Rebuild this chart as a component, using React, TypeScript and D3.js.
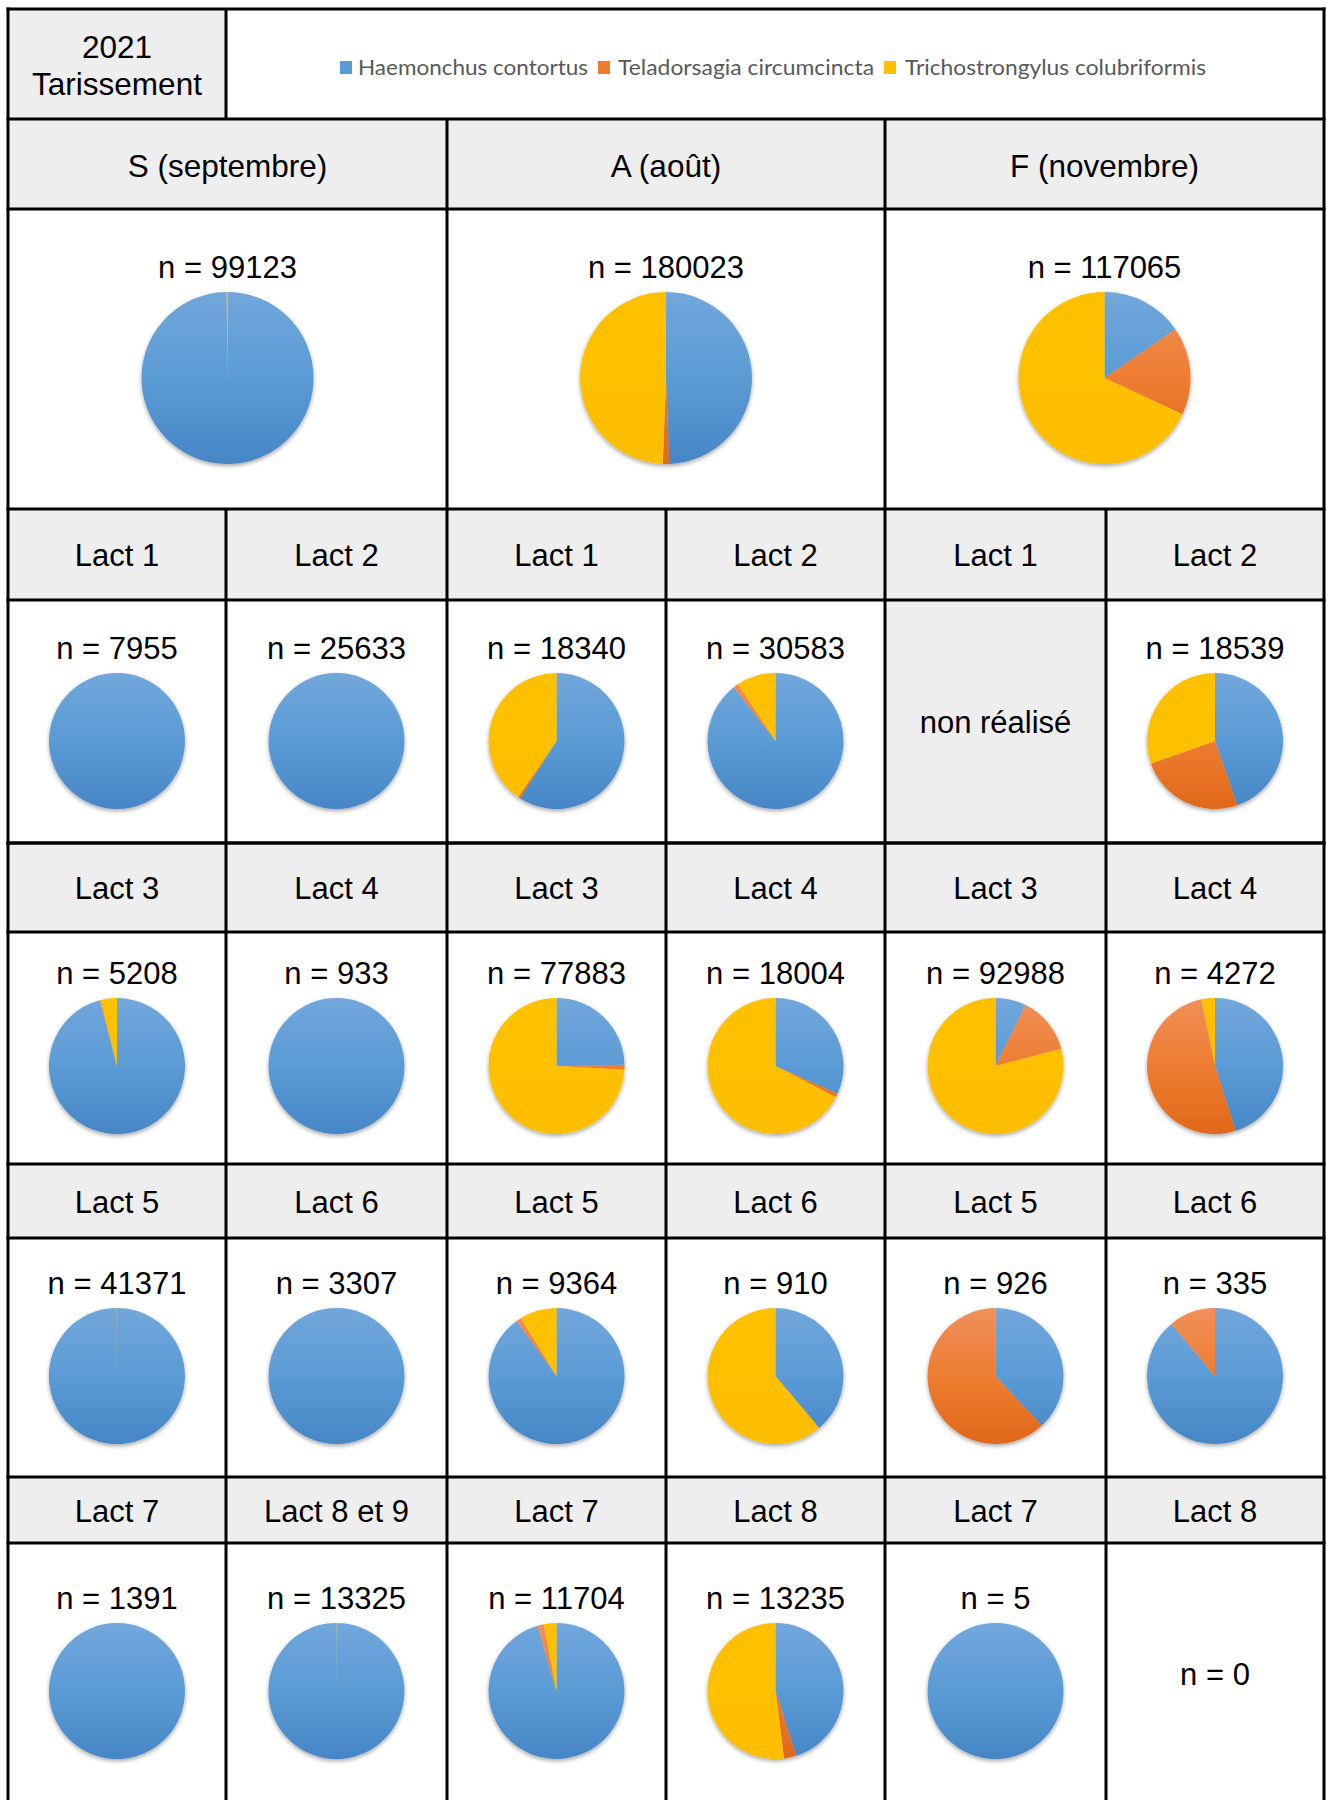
import React from "react";
import * as d3 from "d3";

// ---------- data ----------
const TITLE_LINES = ["2021", "Tarissement"];
const SPECIES = ["Haemonchus contortus", "Teladorsagia circumcincta", "Trichostrongylus colubriformis"];
const SPECIES_COLORS = ["#5B9BD5", "#ED7D31", "#FFC000"];

const MONTHS = ["S (septembre)", "A (août)", "F (novembre)"];
const MONTH_N = [99123, 180023, 117065];
const MONTH_HAEMONCHUS = [99.85, 49.4, 15.4];
const MONTH_TELADORSAGIA = [0, 1.2, 16.5];
const MONTH_TRICHO = [0.15, 49.4, 68.1];

const LACT_LABELS = [
  ["Lact 1", "Lact 2", "Lact 1", "Lact 2", "Lact 1", "Lact 2"],
  ["Lact 3", "Lact 4", "Lact 3", "Lact 4", "Lact 3", "Lact 4"],
  ["Lact 5", "Lact 6", "Lact 5", "Lact 6", "Lact 5", "Lact 6"],
  ["Lact 7", "Lact 8 et 9", "Lact 7", "Lact 8", "Lact 7", "Lact 8"],
];
const LACT_N: (number | null)[][] = [
  [7955, 25633, 18340, 30583, null, 18539],
  [5208, 933, 77883, 18004, 92988, 4272],
  [41371, 3307, 9364, 910, 926, 335],
  [1391, 13325, 11704, 13235, 5, 0],
];
const LACT_HAEMONCHUS = [
  [100, 100, 59, 89.5, 0, 44.7],
  [95.9, 100, 24.7, 31.7, 7.3, 45.1],
  [99.95, 100, 90, 38.9, 38.1, 88.9],
  [100, 99.95, 95.5, 45.1, 100, 0],
];
const LACT_TELADORSAGIA = [
  [0, 0, 0.5, 1.2, 0, 24.9],
  [0.3, 0, 1.2, 0.9, 13.6, 51.7],
  [0, 0, 1.2, 0, 61.9, 11.1],
  [0, 0, 1.5, 2.9, 0, 0],
];
const LACT_TRICHO = [
  [0, 0, 40.5, 9.3, 0, 30.4],
  [3.8, 0, 74.1, 67.4, 79.1, 3.2],
  [0.05, 0, 8.8, 61.1, 0, 0],
  [0, 0.05, 3.0, 52.0, 0, 0],
];
const NOT_DONE_LABEL = "non réalisé";

// ---------- layout ----------
const W = 1326;
const H = 1800;
const X = [8, 226, 447, 666, 885, 1106, 1324];
const MX = [8, 447, 885, 1324];
const Y_TOP = 9;
const Y_HEAD = 119;
const Y_MONTH = 209;
const Y_BIG = 509;
const LACT_ROWS = [
  { head: 509, pie: 600, end: 843, cy: 741 },
  { head: 843, pie: 932, end: 1164, cy: 1066 },
  { head: 1164, pie: 1238, end: 1477, cy: 1376 },
  { head: 1477, pie: 1543, end: 1810, cy: 1691 },
];
const GRAY = "#EEEEEE";
const FONT = "'Liberation Sans', Arial, Helvetica, sans-serif";
const FS = 31;
const GRAD_TOP = ["#71A7DB", "#F1905A", "#FFC000"];
const GRAD_MID = ["#5B9BD5", "#ED7D31", "#FFC000"];
const GRAD_BOT = ["#4686C6", "#E0681A", "#FDBD00"];

const pieGen = d3.pie<number>().sort(null).value((d) => d);

function Pie({ id, cx, cy, r, values }: { id: string; cx: number; cy: number; r: number; values: number[] }) {
  const arcs = pieGen(values);
  const arc = d3.arc<d3.PieArcDatum<number>>().innerRadius(0).outerRadius(r);
  return (
    <g transform={`translate(${cx},${cy})`}>
      <defs>
        {SPECIES.map((_, i) => (
          <linearGradient key={i} id={`${id}-g${i}`} gradientUnits="userSpaceOnUse" x1={0} y1={-r} x2={0} y2={r}>
            <stop offset="0" stopColor={GRAD_TOP[i]} />
            <stop offset="0.5" stopColor={GRAD_MID[i]} />
            <stop offset="1" stopColor={GRAD_BOT[i]} />
          </linearGradient>
        ))}
      </defs>
      <g filter="url(#pieShadow)">
        {arcs.map((a, i) =>
          a.value > 0 ? <path key={i} d={arc(a) || ""} fill={`url(#${id}-g${i})`} /> : null
        )}
      </g>
    </g>
  );
}

export default function App() {
  const hLines = [Y_TOP, Y_HEAD, Y_MONTH, Y_BIG, ...LACT_ROWS.slice(1).map((r) => r.head), ...LACT_ROWS.map((r) => r.pie), LACT_ROWS[0].end];
  const legendX = [340, 598, 884];
  const legendTextX = [358, 618, 905];
  const legendW = [230, 256, 301];
  const bigPieCy = 378;
  const bigR = 86;
  const smallR = 68;

  return (
    <svg width={W} height={H} style={{ position: "absolute", left: 0, top: 0, background: "#fff" }} fontFamily={FONT}>
      <defs>
        <filter id="pieShadow" x="-20%" y="-20%" width="140%" height="145%">
          <feDropShadow dx="0" dy="2" stdDeviation="2.2" floodColor="#000" floodOpacity="0.35" />
        </filter>
      </defs>
      <rect x={0} y={0} width={W} height={H} fill="#fff" />

      {/* gray header cells */}
      <rect x={X[0]} y={Y_TOP} width={X[1] - X[0]} height={Y_HEAD - Y_TOP} fill={GRAY} />
      <rect x={X[0]} y={Y_HEAD} width={X[6] - X[0]} height={Y_MONTH - Y_HEAD} fill={GRAY} />
      {LACT_ROWS.map((r, i) => (
        <rect key={i} x={X[0]} y={r.head} width={X[6] - X[0]} height={r.pie - r.head} fill={GRAY} />
      ))}
      {LACT_N.map((row, ri) =>
        row.map((n, ci) =>
          n === null ? (
            <rect key={`nd${ri}-${ci}`} x={X[ci]} y={LACT_ROWS[ri].pie} width={X[ci + 1] - X[ci]} height={LACT_ROWS[ri].end - LACT_ROWS[ri].pie} fill={GRAY} />
          ) : null
        )
      )}

      {/* title */}
      <text x={(X[0] + X[1]) / 2} y={58} textAnchor="middle" fontSize={31.5} fill="#000">{TITLE_LINES[0]}</text>
      <text x={(X[0] + X[1]) / 2} y={95} textAnchor="middle" fontSize={31.5} fill="#000">{TITLE_LINES[1]}</text>

      {/* legend */}
      {SPECIES.map((s, i) => (
        <g key={s}>
          <rect x={legendX[i]} y={61} width={12} height={13} fill={SPECIES_COLORS[i]} />
          <text x={legendTextX[i]} y={75} fontFamily="Lato, 'Open Sans', sans-serif" fontSize={22} fill="#595959" textLength={legendW[i]} lengthAdjust="spacingAndGlyphs">
            {s}
          </text>
        </g>
      ))}

      {/* month headers */}
      {MONTHS.map((m, i) => (
        <text key={m} x={(MX[i] + MX[i + 1]) / 2} y={177} textAnchor="middle" fontSize={31.5} fill="#000">{m}</text>
      ))}

      {/* big pies */}
      {MONTHS.map((m, i) => {
        const cx = (MX[i] + MX[i + 1]) / 2;
        return (
          <g key={`big${i}`}>
            <text x={cx} y={bigPieCy - bigR - 14} textAnchor="middle" fontSize={FS} fill="#000">{`n = ${MONTH_N[i]}`}</text>
            <Pie id={`big${i}`} cx={cx} cy={bigPieCy} r={bigR} values={[MONTH_HAEMONCHUS[i], MONTH_TELADORSAGIA[i], MONTH_TRICHO[i]]} />
          </g>
        );
      })}

      {/* lactation rows */}
      {LACT_ROWS.map((row, ri) => (
        <g key={`row${ri}`}>
          {LACT_LABELS[ri].map((lab, ci) => (
            <text key={`h${ci}`} x={(X[ci] + X[ci + 1]) / 2} y={(row.head + row.pie) / 2 + 11.5} textAnchor="middle" fontSize={FS} fill="#000">{lab}</text>
          ))}
          {LACT_N[ri].map((n, ci) => {
            const cx = (X[ci] + X[ci + 1]) / 2;
            if (n === null) {
              return <text key={`c${ci}`} x={cx} y={(row.pie + row.end) / 2 + 11.5} textAnchor="middle" fontSize={FS} fill="#000">{NOT_DONE_LABEL}</text>;
            }
            if (n === 0) {
              return <text key={`c${ci}`} x={cx} y={row.cy - 6} textAnchor="middle" fontSize={FS} fill="#000">{`n = ${n}`}</text>;
            }
            return (
              <g key={`c${ci}`}>
                <text x={cx} y={row.cy - smallR - 14} textAnchor="middle" fontSize={FS} fill="#000">{`n = ${n}`}</text>
                <Pie id={`p${ri}-${ci}`} cx={cx} cy={row.cy} r={smallR} values={[LACT_HAEMONCHUS[ri][ci], LACT_TELADORSAGIA[ri][ci], LACT_TRICHO[ri][ci]]} />
              </g>
            );
          })}
        </g>
      ))}

      {/* grid lines */}
      <g stroke="#000" strokeWidth={3}>
        {hLines.map((y, i) => (
          <line key={`hl${i}`} x1={X[0] - 1.5} x2={X[6] + 1.5} y1={y} y2={y} />
        ))}
        <line x1={X[0]} x2={X[0]} y1={Y_TOP - 1.5} y2={H} />
        <line x1={X[6]} x2={X[6]} y1={Y_TOP - 1.5} y2={H} />
        <line x1={X[1]} x2={X[1]} y1={Y_TOP} y2={Y_HEAD} />
        <line x1={MX[1]} x2={MX[1]} y1={Y_HEAD} y2={H} />
        <line x1={MX[2]} x2={MX[2]} y1={Y_HEAD} y2={H} />
        {[1, 3, 5].map((ci) => (
          <line key={`vl${ci}`} x1={X[ci]} x2={X[ci]} y1={Y_BIG} y2={H} />
        ))}
      </g>
    </svg>
  );
}
